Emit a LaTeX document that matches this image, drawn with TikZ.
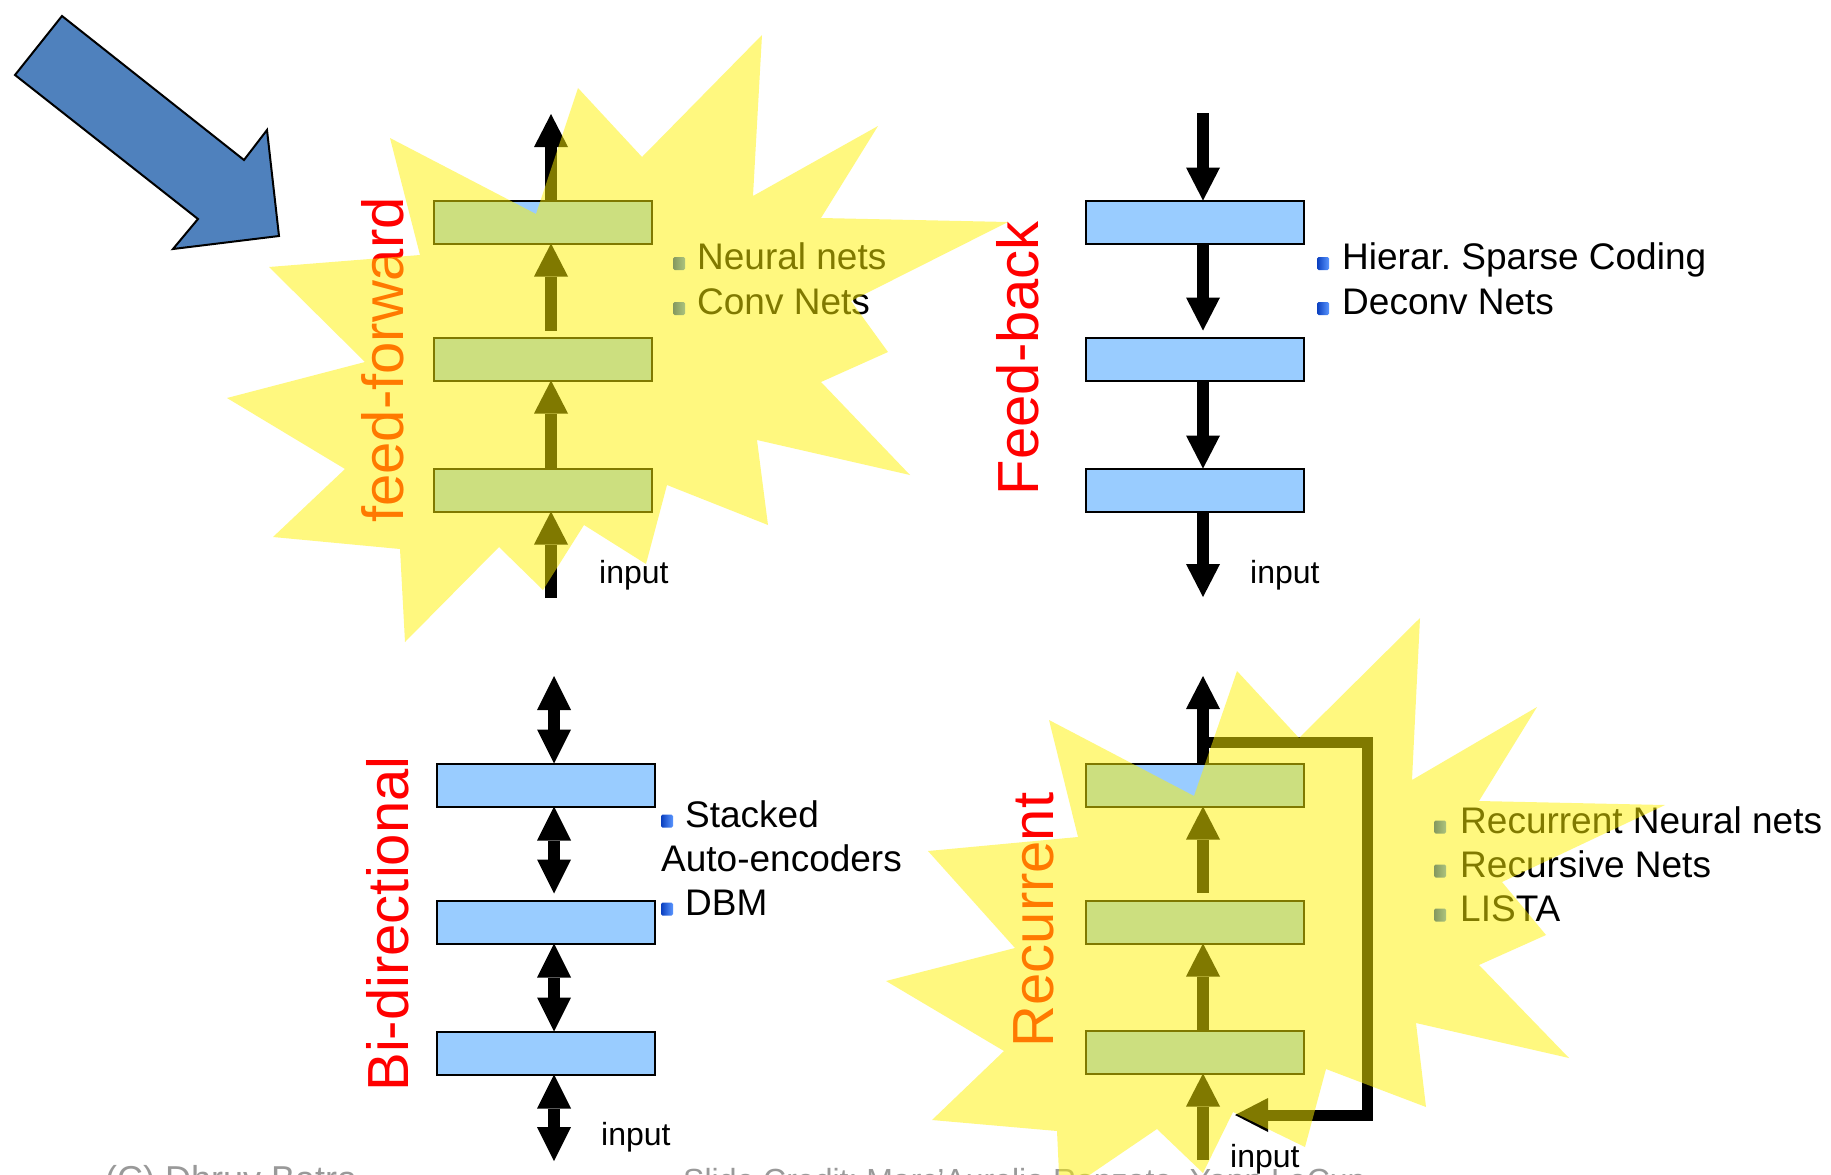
\documentclass[tikz,border=0pt]{standalone}
\usepackage{fontspec}
\setmainfont{Liberation Sans}
\usetikzlibrary{arrows.meta}
\definecolor{boxblue}{HTML}{99CCFF}
\definecolor{arrowblue}{HTML}{4F81BD}
\definecolor{bulletdark}{HTML}{0A3FBF}
\definecolor{bulletlight}{HTML}{5A96FF}
\definecolor{footgray}{HTML}{999999}
\frenchspacing
\begin{document}
\begin{tikzpicture}[x=1pt,y=-1pt,
  lbox/.style={draw=black, line width=2pt, fill=boxblue, minimum width=218pt, minimum height=43pt, inner sep=0pt, outer sep=0pt},
  fat/.style={line width=12pt},
  fwdarr/.style={fat, -{Triangle[length=33pt,width=34pt,line width=0pt]}},
  bidarr/.style={fat, {Triangle[length=34pt,width=34pt,line width=0pt]}-{Triangle[length=34pt,width=34pt,line width=0pt]}},
  lbl/.style={text=red, font=\fontsize{58}{60}\selectfont, rotate=90, anchor=base, inner sep=0pt},
  bitem/.style={font=\fontsize{37}{44}\selectfont, anchor=base west, inner sep=0pt},
  bul/.style={minimum width=12pt, minimum height=13pt, inner sep=0pt, rounded corners=1.5pt, left color=bulletdark, right color=bulletlight},
  inlbl/.style={font=\fontsize{32}{34}\selectfont, anchor=base west, inner sep=0pt},
  burst/.style={fill=yellow, fill opacity=0.5},
  foot/.style={text=footgray, anchor=base west, inner sep=0pt}
]
\useasboundingbox (0,0) rectangle (1831,1175);
\clip (0,0) rectangle (1831,1175);
\fill[white] (0,0) rectangle (1831,1175);

% big blue arrow
\draw[fill=arrowblue, line width=2pt, line join=miter]
  (62,16) -- (244,160) -- (267,130) -- (279,236) -- (173,249) -- (198,219) -- (15,75) -- cycle;

% ---------- feed-forward ----------
\node[lbox] (F1) at (543,222) {};
\node[lbox] (F2) at (543,359) {};
\node[lbox] (F3) at (543,490) {};
\coordinate (ffout) at (551,114);
\coordinate (ffin) at (551,598);
\draw[fwdarr] (F1.north -| ffout) -- (ffout);
\draw[fwdarr, shorten <=7pt] (F2.north -| ffout) -- (F1.south -| ffout);
\draw[fwdarr] (F3.north -| ffout) -- (F2.south -| ffout);
\draw[fwdarr] (ffin) -- (F3.south -| ffout);
\node[lbl] (lff) at (403,360) {feed-forward};
\node[inlbl] (inff) at (599,583) {input};
\node[bul] (bff1) at (679,263.5) {};
\node[bul] (bff2) at (679,308.5) {};
\node[bitem] (tff1) at (697,269) {Neural nets};
\node[bitem] (tff2) at (697,314) {Conv Nets};

% ---------- feed-back ----------
\node[lbox] (B1) at (1195,222) {};
\node[lbox] (B2) at (1195,359) {};
\node[lbox] (B3) at (1195,490) {};
\coordinate (fbtop) at (1203,113);
\coordinate (fbout) at (1203,597);
\draw[fwdarr] (fbtop) -- (B1.north -| fbtop);
\draw[fwdarr, shorten >=7pt] (B1.south -| fbtop) -- (B2.north -| fbtop);
\draw[fwdarr] (B2.south -| fbtop) -- (B3.north -| fbtop);
\draw[fwdarr] (B3.south -| fbtop) -- (fbout);
\node[lbl] (lfb) at (1038,358) {Feed-back};
\node[inlbl] (infb) at (1250,583) {input};
\node[bul] (bfb1) at (1323,263.5) {};
\node[bul] (bfb2) at (1323,308.5) {};
\node[bitem] (tfb1) at (1342,269) {Hierar. Sparse Coding};
\node[bitem] (tfb2) at (1342,314) {Deconv Nets};

% ---------- bi-directional ----------
\node[lbox] (D1) at (546,785) {};
\node[lbox] (D2) at (546,922) {};
\node[lbox] (D3) at (546,1053) {};
\coordinate (bitop) at (554,676);
\coordinate (biin) at (554,1161);
\draw[bidarr] (bitop) -- (D1.north -| bitop);
\draw[bidarr, shorten >=7pt] (D1.south -| bitop) -- (D2.north -| bitop);
\draw[bidarr] (D2.south -| bitop) -- (D3.north -| bitop);
\draw[bidarr] (D3.south -| bitop) -- (biin);
\node[lbl] (lbi) at (408,924) {Bi-directional};
\node[inlbl] (inbi) at (601,1145) {input};
\node[bul] (bbi1) at (667,821) {};
\node[bul] (bbi2) at (667,909) {};
\node[bitem] (tbi1) at (685,827) {Stacked};
\node[bitem] (tbi2) at (661,871) {Auto-encoders};
\node[bitem] (tbi3) at (685,915) {DBM};

% ---------- recurrent ----------
\node[lbox] (R1) at (1195,785) {};
\node[lbox] (R2) at (1195,922) {};
\node[lbox] (R3) at (1195,1052) {};
\coordinate (rtop) at (1203,676);
\coordinate (rin) at (1203,1160);
\draw[fwdarr] (R1.north -| rtop) -- (rtop);
\draw[fwdarr, shorten <=8pt] (R2.north -| rtop) -- (R1.south -| rtop);
\draw[fwdarr] (R3.north -| rtop) -- (R2.south -| rtop);
\draw[fwdarr] (rin) -- (R3.south -| rtop);
\coordinate (rl1) at (1203,742);
\coordinate (rl2) at (1367,742);
\coordinate (rl3) at (1367,1115);
\coordinate (rltip) at (1235,1115);
\draw[fwdarr, line width=11pt, line join=miter] (rl1) -- (rl2) -- (rl3) -- (rltip);
\node[lbl] (lrc) at (1053,920) {Recurrent};
\node[inlbl] (inrc) at (1230,1167) {input};
\node[bul] (brc1) at (1440,827) {};
\node[bul] (brc2) at (1440,871) {};
\node[bul] (brc3) at (1440,915) {};
\node[bitem] (trc1) at (1460,833) {Recurrent Neural nets};
\node[bitem] (trc2) at (1460,877) {Recursive Nets};
\node[bitem] (trc3) at (1460,921) {LISTA};

% footer
\node[foot, font=\fontsize{36}{40}\selectfont] (ft1) at (105,1191) {(C) Dhruv Batra};
\node[foot, font=\fontsize{32}{36}\selectfont] (ft2) at (683,1191) {Slide Credit: Marc'Aurelio Ranzato, Yann LeCun};

% starbursts (translucent yellow overlay)
\fill[burst] (762,35) -- (753,196) -- (878,126) -- (821,218) -- (1008,222) -- (851,301)
  -- (888,352) -- (821,382) -- (910,475) -- (757,440) -- (768,525) -- (667,485)
  -- (646,564) -- (584,525) -- (543,590) -- (499,547) -- (405,642) -- (400,549)
  -- (273,537) -- (345,469) -- (227,398) -- (365,362) -- (269,267) -- (420,255)
  -- (390,138) -- (536,214) -- (578,88) -- (642,157) -- cycle;
\fill[burst] (1420,618) -- (1412,780) -- (1537,707) -- (1479,801) -- (1665,805)
  -- (1502,882) -- (1546,935) -- (1479,965) -- (1569,1058) -- (1416,1023)
  -- (1426,1107) -- (1326,1069) -- (1305,1147) -- (1233,1112) -- (1203,1173)
  -- (1157,1129) -- (1060,1195) -- (1057,1131) -- (932,1120) -- (1004,1051)
  -- (886,981) -- (1015,948) -- (928,851) -- (1078,837) -- (1049,720)
  -- (1194,796) -- (1237,671) -- (1299,738) -- cycle;
\end{tikzpicture}
\end{document}
